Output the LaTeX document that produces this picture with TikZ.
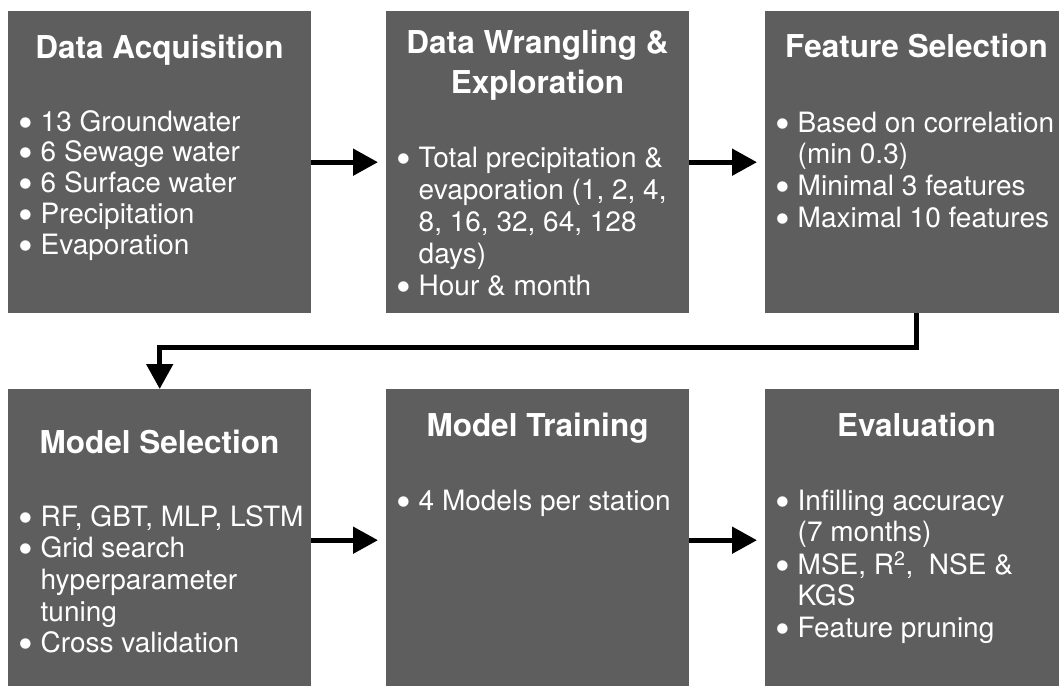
\documentclass[tikz,border=0pt]{standalone}
\usepackage{fontspec}
\setmainfont{TeX Gyre Heros}
\usetikzlibrary{arrows.meta}
\definecolor{boxgray}{RGB}{94,94,94}
\tikzset{
  stage/.style={fill=boxgray, draw=none, inner sep=0pt, minimum width=303pt, minimum height=302pt, anchor=north west},
  ttl/.style={text=white, inner sep=0pt, anchor=base, font=\fontsize{31.5}{40}\selectfont\bfseries},
  bodytxt/.style={text=white, inner sep=0pt, anchor=base west, font=\fontsize{28}{31.7}\selectfont},
  flow/.style={line width=5pt, -{Triangle[length=25pt,width=26pt]}},
}
\newcommand{\itm}{\makebox[22pt][l]{\raisebox{-6pt}[0pt][0pt]{\scalebox{1.5}{\textbullet}}}}
\begin{document}
\begin{tikzpicture}[x=1pt,y=-1pt]
\useasboundingbox (0,0) rectangle (1059,685);
\clip (0,0) rectangle (1059,685);
% boxes
\node[stage] (b1) at (8,11) {};
\node[stage] (b2) at (386,11) {};
\node[stage] (b3) at (765,11) {};
\node[stage] (b4) at (8,389) {};
\node[stage] (b5) at (386,389) {};
\node[stage] (b6) at (765,389) {};
% titles
\node[ttl] (h1) at (159.5,59) {Data Acquisition};
\node[ttl] (h2) at (537.5,53) {\begin{tabular}[t]{@{}c@{}}Data Wrangling \&\\Exploration\end{tabular}};
\node[ttl] (h3) at (916.5,58) {Feature Selection};
\node[ttl] (h4) at (159.5,453) {Model Selection};
\node[ttl] (h5) at (537.5,436) {Model Training};
\node[ttl] (h6) at (916.5,436) {Evaluation};
% bodies
\node[bodytxt, font=\fontsize{28}{30.9}\selectfont] (t1) at (18.5,131) {\begin{tabular}[t]{@{}l@{}l@{}}
\itm & 13 Groundwater\\
\itm & 6 Sewage water\\
\itm & 6 Surface water\\
\itm & Precipitation\\
\itm & Evaporation
\end{tabular}};
\node[bodytxt, font=\fontsize{28}{32}\selectfont] (t2) at (396.5,167) {\begin{tabular}[t]{@{}l@{}l@{}}
\itm & Total precipitation \&\\
 & evaporation (1, 2, 4,\\
 & 8, 16, 32, 64, 128\\
 & days)\\
\itm & Hour \& month
\end{tabular}};
\node[bodytxt] (t3) at (775.5,132) {\begin{tabular}[t]{@{}l@{}l@{}}
\itm & Based on correlation\\
 & (min 0.3)\\
\itm & Minimal 3 features\\
\itm & Maximal 10 features
\end{tabular}};
\node[bodytxt] (t4) at (18.5,526) {\begin{tabular}[t]{@{}l@{}l@{}}
\itm & RF, GBT, MLP, LSTM\\
\itm & Grid search\\
 & hyperparameter\\
 & tuning\\
\itm & Cross validation
\end{tabular}};
\node[bodytxt] (t5) at (396.5,510) {\begin{tabular}[t]{@{}l@{}l@{}}
\itm & 4 Models per station
\end{tabular}};
\node[bodytxt] (t6) at (775.5,510) {\begin{tabular}[t]{@{}l@{}l@{}}
\itm & Infilling accuracy\\
 & (7 months)\\
\itm & MSE, R\textsuperscript{2},\ \ NSE \&\\
 & KGS\\
\itm & Feature pruning
\end{tabular}};
% connectors
\draw[flow, shorten >=8pt] (b1.east) -- (b2.west);
\draw[flow, shorten >=8pt] (b2.east) -- (b3.west);
\draw[flow] (b3.south) -- ++(0,34) -| (b4.north);
\draw[flow, shorten >=8pt] (b4.east) -- (b5.west);
\draw[flow, shorten >=8pt] (b5.east) -- (b6.west);
\end{tikzpicture}
\end{document}
